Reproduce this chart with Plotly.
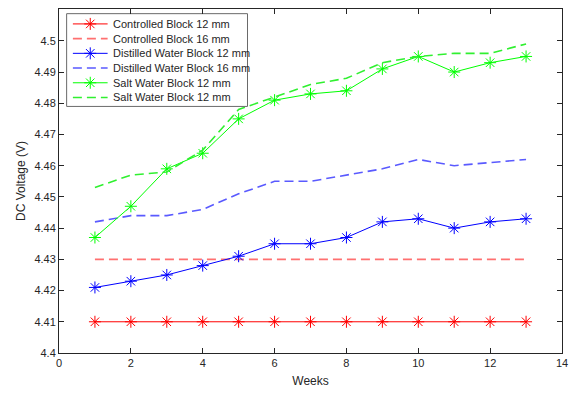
import plotly.graph_objects as go

weeks = list(range(1, 14))
controlled_12 = [4.41] * 13
controlled_16 = [4.43] * 13
distilled_12 = [4.421, 4.423, 4.425, 4.428, 4.431, 4.435, 4.435, 4.437, 4.442, 4.443, 4.440, 4.442, 4.443]
distilled_16 = [4.442, 4.444, 4.444, 4.446, 4.451, 4.455, 4.455, 4.457, 4.459, 4.462, 4.460, 4.461, 4.462]
salt_12 = [4.437, 4.447, 4.459, 4.464, 4.475, 4.481, 4.483, 4.484, 4.491, 4.495, 4.490, 4.493, 4.495]
salt_12b = [4.453, 4.457, 4.458, 4.465, 4.478, 4.482, 4.486, 4.488, 4.493, 4.495, 4.496, 4.496, 4.499]

names = ["Controlled Block 12 mm", "Controlled Block 16 mm", "Distilled Water Block 12 mm",
         "Distilled Water Block 16 mm", "Salt Water Block 12 mm", "Salt Water Block 12 mm"]
yticks = [4.40, 4.41, 4.42, 4.43, 4.44, 4.45, 4.46, 4.47, 4.48, 4.49, 4.50]
ytick_text = ["4.4", "4.41", "4.42", "4.43", "4.44", "4.45", "4.46", "4.47", "4.48", "4.49", "4.5"]
xticks = [0, 2, 4, 6, 8, 10, 12, 14]

series = [controlled_12, controlled_16, distilled_12, distilled_16, salt_12, salt_12b]
colors = ["#FF0000", "#FF7070", "#0000FF", "#5A5AFF", "#00FF00", "#30F030"]
has_marker = [True, False, True, False, True, False]

W, H = 576, 394
ML, MR, MT, MB = 59, 10, 8, 40
PW, PH = W - ML - MR, H - MT - MB

def fx(px):
    return (px - ML) / PW

def fy(py):
    return (H - MB - py) / PH

DASH = "9px,5px"
MSIZE = 10
DW = 1.6

fig = go.Figure()

for y, c, n, m in zip(series, colors, names, has_marker):
    if m:
        fig.add_trace(go.Scatter(
            x=weeks, y=y, name=n, mode="lines+markers", showlegend=False,
            line=dict(color=c, width=1),
            marker=dict(symbol="asterisk-open", size=MSIZE, line=dict(color=c, width=1), color=c),
        ))
    else:
        fig.add_trace(go.Scatter(
            x=weeks, y=y, name=n, mode="lines", showlegend=False,
            line=dict(color=c, width=DW, dash=DASH),
        ))

# Legend drawn in an overlay subplot whose axes span 0..1 of the plot area
bx0, bx1, by0, by1 = fx(66.7), fx(249), fy(12.7), fy(106)
fig.add_trace(go.Scatter(
    x=[bx0, bx1, bx1, bx0, bx0], y=[by0, by0, by1, by1, by0],
    xaxis="x2", yaxis="y2", mode="lines", fill="toself", fillcolor="white",
    line=dict(color="#6a6a6a", width=1), hoverinfo="skip", showlegend=False,
))
annotations = []
for i, (c, n, m) in enumerate(zip(colors, names, has_marker)):
    ry = fy(23 + 14.8 * i)
    fig.add_trace(go.Scatter(
        x=[fx(73), fx(108)], y=[ry, ry], xaxis="x2", yaxis="y2", mode="lines",
        line=dict(color=c, width=1 if m else DW, dash="solid" if m else DASH),
        hoverinfo="skip", showlegend=False,
    ))
    if m:
        fig.add_trace(go.Scatter(
            x=[fx(90.5)], y=[ry], xaxis="x2", yaxis="y2", mode="markers",
            marker=dict(symbol="asterisk-open", size=MSIZE, line=dict(color=c, width=1), color=c),
            hoverinfo="skip", showlegend=False,
        ))
    annotations.append(dict(
        x=fx(111), y=ry, xref="paper", yref="paper", text=n, showarrow=False,
        xanchor="left", yanchor="middle",
        font=dict(family="Liberation Sans, Arial", size=11, color="#262626"),
    ))

axis_common = dict(
    showline=True, linecolor="#262626", linewidth=1, mirror="ticks",
    ticks="inside", ticklen=5, tickcolor="#262626", tickwidth=1,
    showgrid=False, zeroline=False,
    tickfont=dict(family="Liberation Sans, Arial", size=11, color="#262626"),
)

fig.update_layout(
    width=W, height=H,
    margin=dict(l=ML, r=MR, t=MT, b=MB),
    paper_bgcolor="white", plot_bgcolor="white",
    font=dict(family="Liberation Sans, Arial", size=11, color="#262626"),
    xaxis=dict(range=[0, 14], tickvals=xticks,
               title=dict(text="Weeks", font=dict(size=12, color="#262626"), standoff=8),
               **axis_common),
    yaxis=dict(range=[4.4, 4.5102], tickvals=yticks, ticktext=ytick_text,
               title=dict(text="DC Voltage (V)", font=dict(size=12, color="#262626"), standoff=6),
               **axis_common),
    xaxis2=dict(range=[0, 1], overlaying="x", visible=False, fixedrange=True),
    yaxis2=dict(range=[0, 1], overlaying="y", visible=False, fixedrange=True),
    annotations=annotations,
    showlegend=False,
)

fig.write_html("out.html")
